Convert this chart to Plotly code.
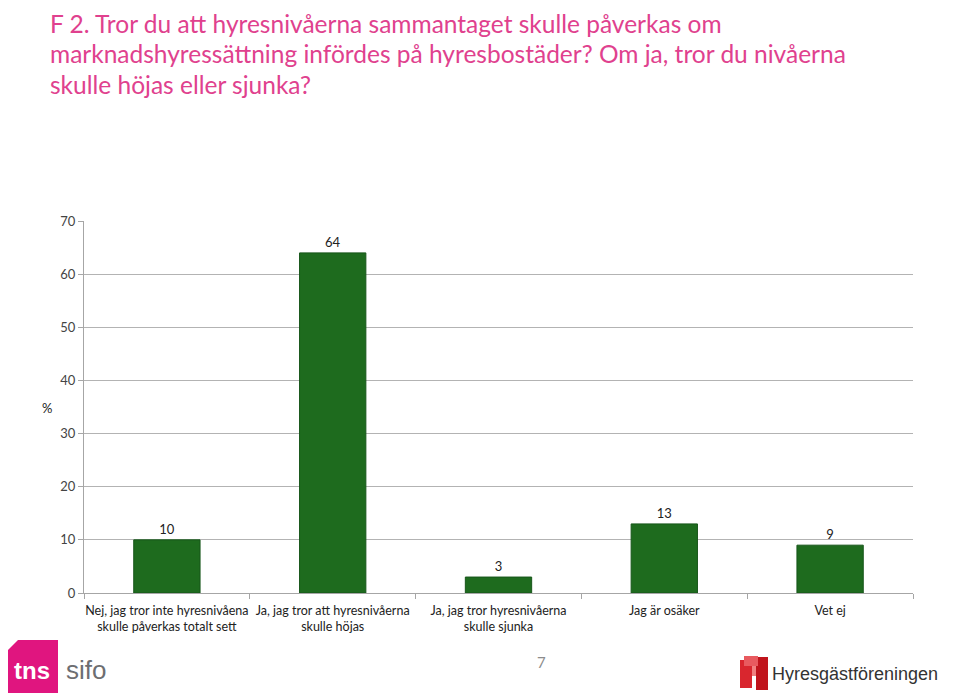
import plotly.graph_objects as go

categories = [
    "Nej, jag tror inte hyresnivåena<br>skulle påverkas totalt sett",
    "Ja, jag tror att hyresnivåerna<br>skulle höjas",
    "Ja, jag tror hyresnivåerna<br>skulle sjunka",
    "Jag är osäker",
    "Vet ej",
]
values = [10, 64, 3, 13, 9]
y_ticks = [0, 10, 20, 30, 40, 50, 60, 70]
title_lines = [
    "F 2. Tror du att hyresnivåerna sammantaget skulle påverkas om",
    "marknadshyressättning infördes på hyresbostäder? Om ja, tror du nivåerna",
    "skulle höjas eller sjunka?",
]

W, H = 960, 695
OFF = 8  # page body margin
L, R, T, B = 84, 913, 221, 593  # plot area in screen pixels

def px(x):
    return (x - L) / (R - L)

def py(y):
    return (B - y) / (B - T)

FONT = "Lato, 'Open Sans', sans-serif"

fig = go.Figure(go.Bar(
    x=categories, y=values,
    marker=dict(color="#1E6B1E", line=dict(color="#17561A", width=1)),
    width=0.4,
    text=values, textposition="outside", cliponaxis=False,
    textfont=dict(family=FONT, size=13, color="#222222"),
))

fig.update_layout(
    width=W, height=H,
    margin=dict(l=L - OFF, r=W - R + OFF, t=T - OFF, b=H - B + OFF),
    plot_bgcolor="white", paper_bgcolor="white",
    showlegend=False,
    font=dict(family=FONT, size=12, color="#222222"),
    xaxis=dict(
        type="category", showline=True, linecolor="#A6A6A6", linewidth=1,
        ticks="outside", tickson="boundaries", ticklen=5, tickcolor="#A6A6A6",
        showgrid=False, tickangle=0, automargin=False, ticklabelstandoff=6,
        tickfont=dict(family=FONT, size=12.5, color="#222222"),
    ),
    yaxis=dict(
        range=[0, 70], tickvals=y_ticks, showline=True, linecolor="#A6A6A6",
        linewidth=1, ticks="outside", ticklen=5, tickcolor="#A6A6A6",
        showgrid=True, gridcolor="#B3B3B3", gridwidth=1, zeroline=False,
        automargin=False,
        tickfont=dict(family=FONT, size=13, color="#444444"),
    ),
)

anns = []
for i, line in enumerate(title_lines):
    anns.append(dict(
        text=line, x=px(48), y=py(23 + 30.5 * i), xref="paper", yref="paper",
        xanchor="left", yanchor="middle", showarrow=False,
        font=dict(family=FONT, size=24.5, color="#E0418E"),
    ))
anns.append(dict(text="%", x=px(47), y=py(408), xref="paper", yref="paper",
                 xanchor="center", yanchor="middle", showarrow=False,
                 font=dict(family=FONT, size=13, color="#222222")))
anns.append(dict(text="7", x=px(541), y=py(662), xref="paper", yref="paper",
                 xanchor="center", yanchor="middle", showarrow=False,
                 font=dict(family=FONT, size=15, color="#8C8C8C")))
# tns sifo logo text
anns.append(dict(text="<b>tns</b>", x=px(32), y=py(670), xref="paper", yref="paper",
                 xanchor="center", yanchor="middle", showarrow=False,
                 font=dict(family="Liberation Sans, Arial", size=24, color="white")))
anns.append(dict(text="sifo", x=px(64), y=py(670), xref="paper", yref="paper",
                 xanchor="left", yanchor="middle", showarrow=False,
                 font=dict(family="Liberation Sans, Arial", size=26, color="#6D6E71")))
# Hyresgästföreningen
anns.append(dict(text="Hyresgästföreningen", x=px(770), y=py(674), xref="paper", yref="paper",
                 xanchor="left", yanchor="middle", showarrow=False,
                 font=dict(family="Liberation Sans, Arial", size=18, color="#333333")))

shapes = []
# tns pink shape with chamfered corner
pts = [(18, 640), (58, 640), (58, 693), (5, 693), (5, 653)]
path = "M " + " L ".join(f"{px(x)},{py(y)}" for x, y in pts) + " Z"
shapes.append(dict(type="path", path=path, xref="paper", yref="paper",
                   fillcolor="#E0157F", line=dict(width=0), layer="below"))
# Hyresgäst icon (simplified red blocks)
for (x0, y0, x1, y1, c) in [(740, 660, 752, 688, "#D9262E"), (752, 664, 766, 676, "#F08080"),
                            (756, 657, 768, 690, "#C0141C"), (744, 656, 758, 666, "#E85A5F")]:
    shapes.append(dict(type="rect", x0=px(x0), x1=px(x1), y0=py(y0), y1=py(y1),
                       xref="paper", yref="paper", fillcolor=c, line=dict(width=0)))

fig.update_layout(annotations=anns, shapes=shapes)
fig.write_html("out.html")
